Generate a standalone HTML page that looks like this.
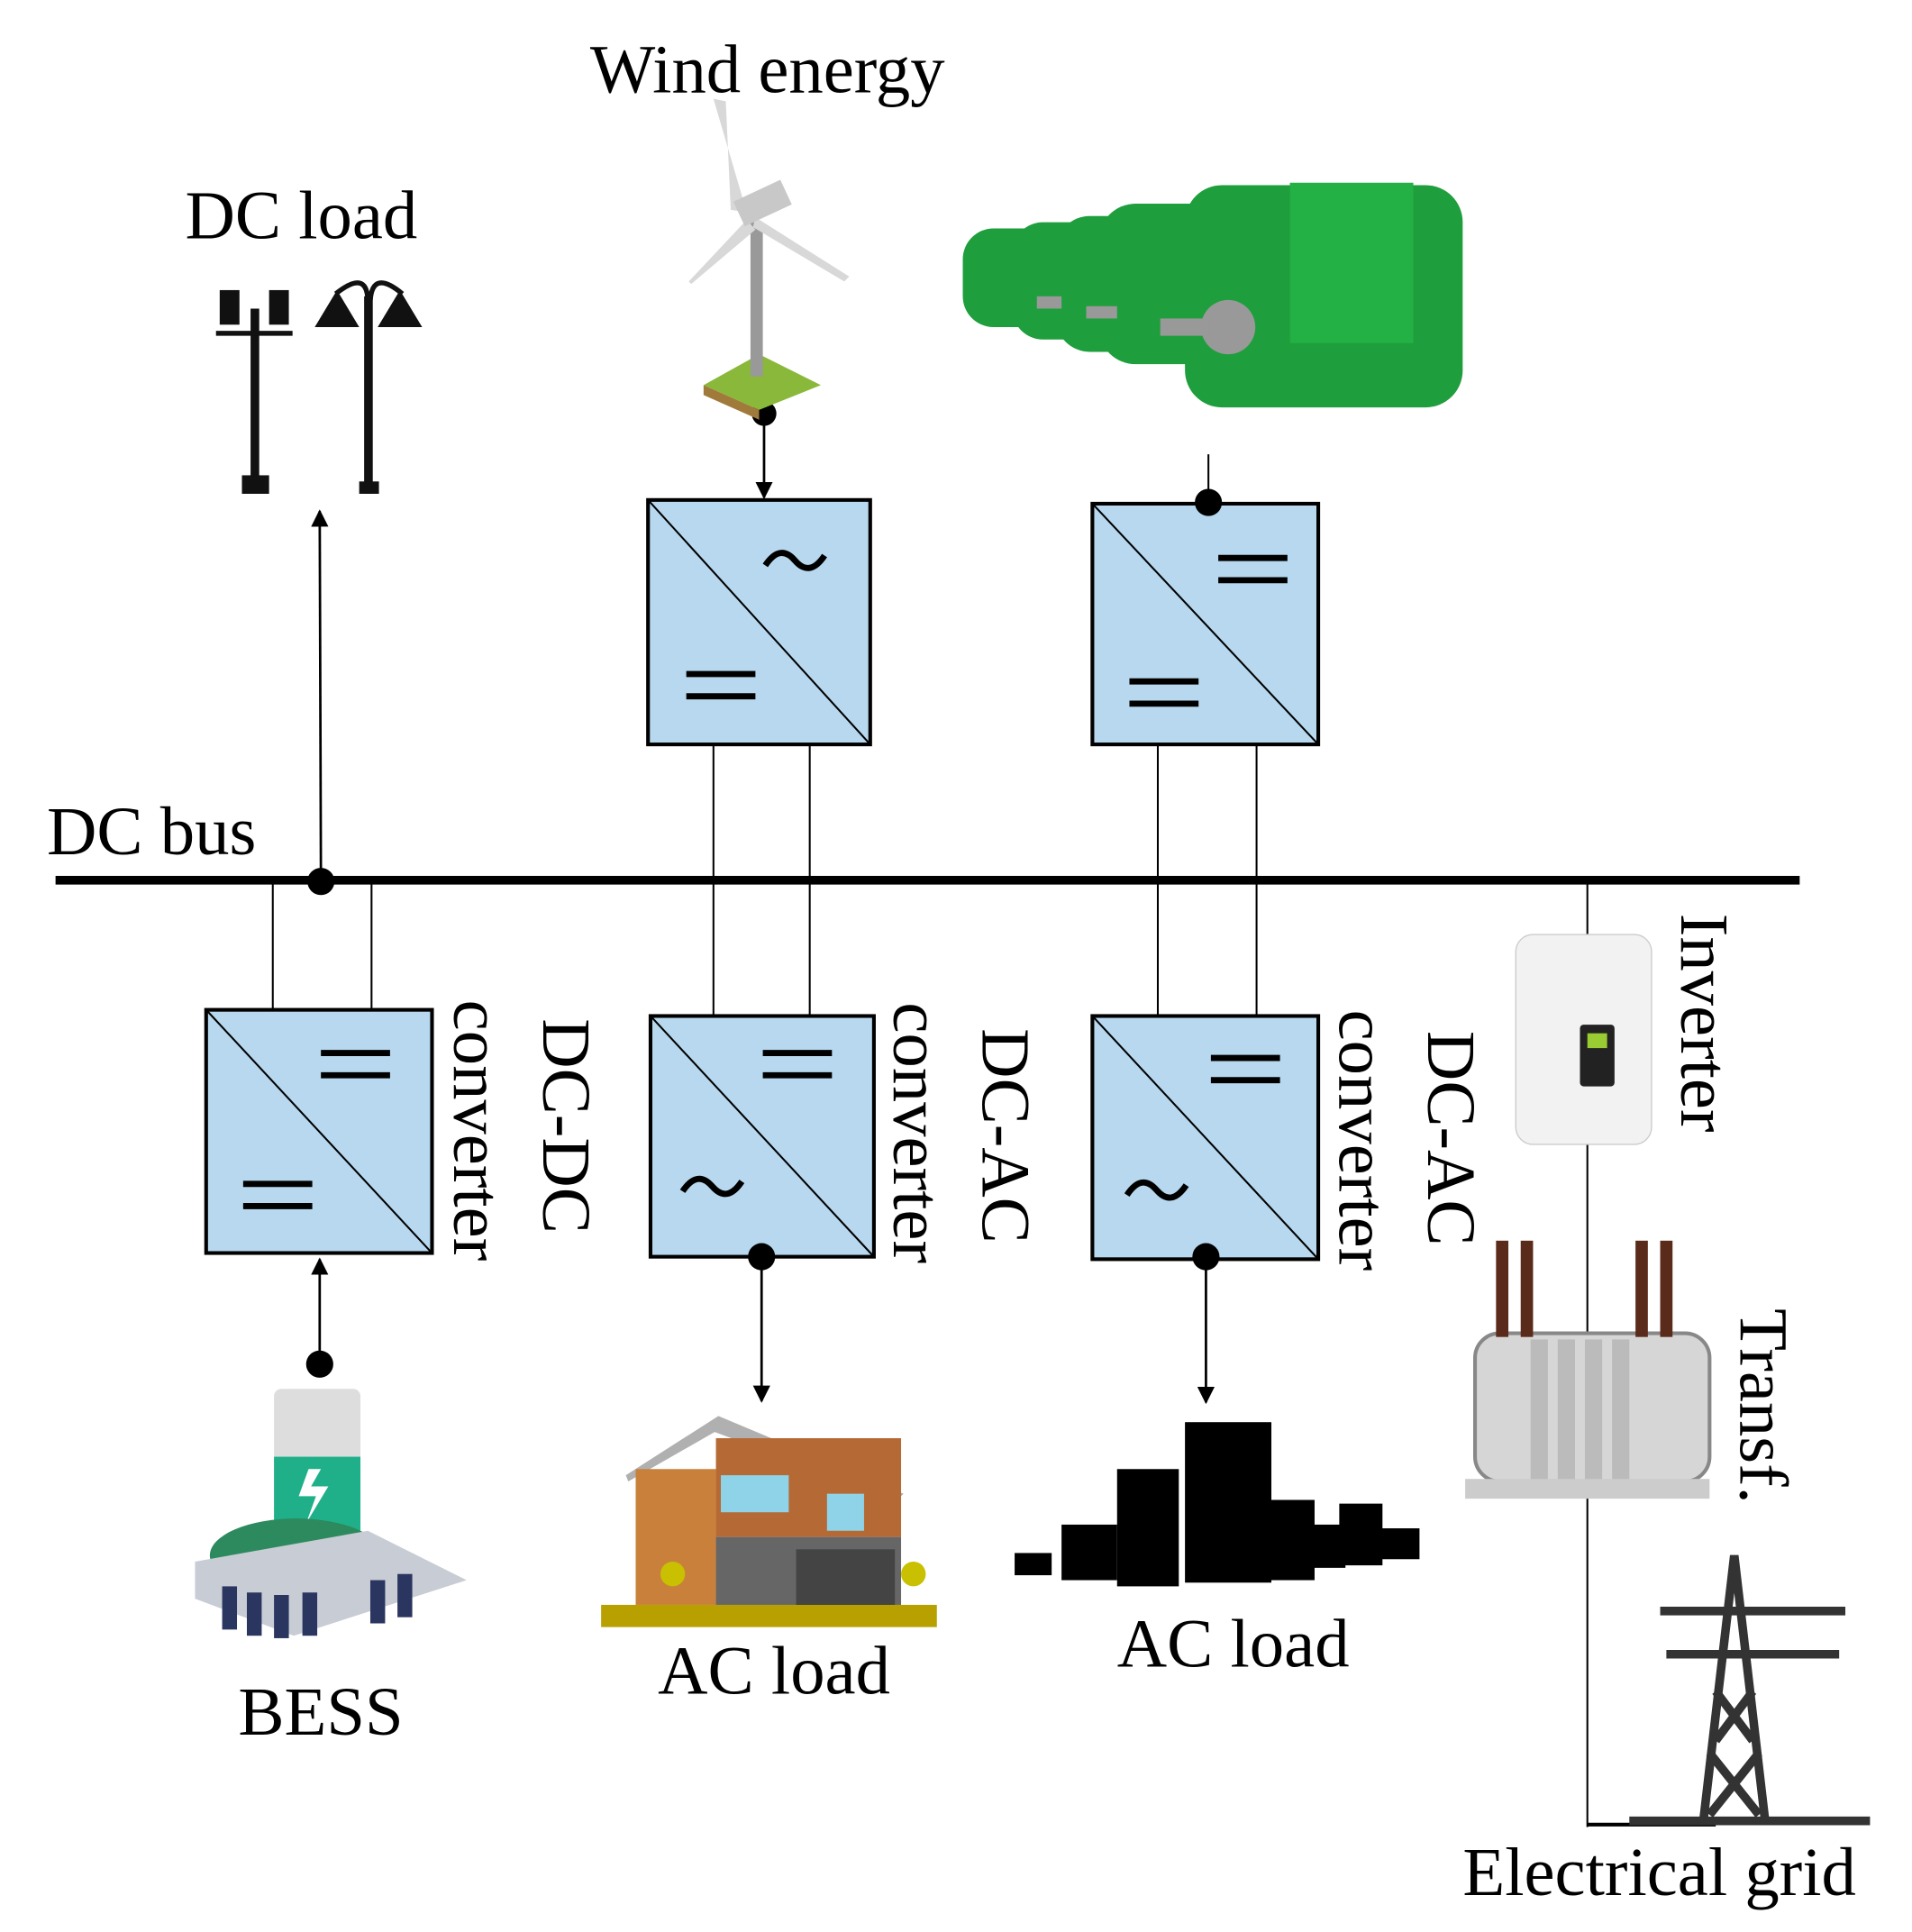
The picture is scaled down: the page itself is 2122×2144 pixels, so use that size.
<!DOCTYPE html>
<html><head><style>html,body{margin:0;padding:0;background:#fff}svg{display:block}</style></head>
<body>
<svg width="2122" height="2144" viewBox="0 0 1549 1565" preserveAspectRatio="none" xmlns="http://www.w3.org/2000/svg" font-family="Liberation Serif, serif" font-size="56">
<defs>
<marker id="ar" viewBox="0 0 10 10" refX="9" refY="5" markerWidth="7" markerHeight="7" orient="auto-start-reverse"><path d="M0,0L10,5L0,10z" fill="#000"/></marker>
</defs>
<rect width="1549" height="1565" fill="#fff"/>
<text x="478" y="75">Wind energy</text>
<text x="150" y="193">DC load</text>
<text x="38" y="692">DC bus</text>
<text x="193" y="1405">BESS</text>
<text x="533" y="1372">AC load</text>
<text x="905" y="1350">AC load</text>
<text x="1185" y="1535">Electrical grid</text>
<g>
<text transform="translate(368,810) rotate(90)">converter</text>
<text transform="translate(440,825) rotate(90)">DC-DC</text>
<text transform="translate(724,812) rotate(90)">converter</text>
<text transform="translate(796,833) rotate(90)">DC-AC</text>
<text transform="translate(1085,818) rotate(90)">converter</text>
<text transform="translate(1157,835) rotate(90)">DC-AC</text>
<text transform="translate(1362,740) rotate(90)">Inverter</text>
<text transform="translate(1410,1060) rotate(90)">Transf.</text>
</g>
<line x1="45" y1="713" x2="1458" y2="713" stroke="#000" stroke-width="7"/>
<circle cx="260" cy="714" r="11"/>
<line x1="260" y1="714" x2="259" y2="414" stroke="#000" stroke-width="2" marker-end="url(#ar)"/>
<g stroke="#000" stroke-width="1.5">
<line x1="578" y1="603" x2="578" y2="823"/><line x1="656" y1="603" x2="656" y2="823"/>
<line x1="938" y1="603" x2="938" y2="823"/><line x1="1018" y1="603" x2="1018" y2="823"/>
<line x1="221" y1="713" x2="221" y2="818"/><line x1="301" y1="713" x2="301" y2="818"/>
<line x1="1286" y1="713" x2="1286" y2="1480"/><line x1="1286" y1="1478" x2="1390" y2="1478" stroke-width="3"/>
<line x1="979" y1="368" x2="979" y2="407"/>
</g>
<g fill="#b7d8ee" stroke="#000" stroke-width="3">
<rect x="525" y="405" width="180" height="198"/>
<rect x="885" y="408" width="183" height="195"/>
<rect x="167" y="818" width="183" height="197"/>
<rect x="527" y="823" width="181" height="195"/>
<rect x="885" y="823" width="183" height="197"/>
</g>
<g stroke="#000" stroke-width="1.5">
<line x1="525" y1="405" x2="705" y2="603"/>
<line x1="885" y1="408" x2="1068" y2="603"/>
<line x1="167" y1="818" x2="350" y2="1015"/>
<line x1="527" y1="823" x2="708" y2="1018"/>
<line x1="885" y1="823" x2="1068" y2="1020"/>
</g>
<g stroke="#000" stroke-width="5">
<path d="M556 546h56M556 564h56"/>
<path d="M987 452h56M987 470h56M915 552h56M915 570h56"/>
<path d="M260 853h56M260 871h56M197 959h56M197 977h56"/>
<path d="M618 853h56M618 871h56"/>
<path d="M981 857h56M981 875h56"/>
</g>
<g fill="none" stroke="#000" stroke-width="5">
<path d="M620 458q12-18 24-4t24-4"/>
<path d="M553 965q12-18 24-4t24-4"/>
<path d="M913 968q12-18 24-4t24-4"/>
</g>
<circle cx="619" cy="335" r="10"/><line x1="619" y1="335" x2="619" y2="403" stroke="#000" stroke-width="2" marker-end="url(#ar)"/>
<circle cx="979" cy="407" r="11"/>
<circle cx="259" cy="1105" r="11"/><line x1="259" y1="1105" x2="259" y2="1020" stroke="#000" stroke-width="2" marker-end="url(#ar)"/>
<circle cx="617" cy="1018" r="11"/><line x1="617" y1="1018" x2="617" y2="1135" stroke="#000" stroke-width="2" marker-end="url(#ar)"/>
<circle cx="977" cy="1018" r="11"/><line x1="977" y1="1018" x2="977" y2="1136" stroke="#000" stroke-width="2" marker-end="url(#ar)"/>
<g fill="#111">
<rect x="203" y="250" width="7" height="140"/><rect x="196" y="385" width="22" height="15"/>
<rect x="178" y="235" width="16" height="28"/><rect x="218" y="235" width="16" height="28"/>
<rect x="175" y="268" width="62" height="4"/>
<rect x="295" y="240" width="7" height="160"/><rect x="291" y="390" width="16" height="10"/>
<path d="M255 265l18-30 18 30z"/><path d="M306 265l18-30 18 30z"/>
<path d="M272 238q25-20 26 5M300 243q2-25 26-5" fill="none" stroke="#111" stroke-width="4"/>
</g>
<g>
<path d="M570 312l45-25 50 25-50 20z" fill="#8ab83a"/><path d="M570 312l45 20v8l-45-20z" fill="#a07a3a"/>
<rect x="608" y="180" width="10" height="125" fill="#999"/>
<path d="M605 172l-27-92 10 2 4 88z" fill="#d8d8d8"/><path d="M605 178l-47 50 2 2 52-44z" fill="#d8d8d8"/><path d="M612 176l76 48-4 4-74-44z" fill="#d8d8d8"/>
<rect x="598" y="155" width="42" height="22" fill="#c8c8c8" transform="rotate(-25 615 168)"/>
</g>
<g fill="#1e9e3c">
<rect x="780" y="185" width="90" height="80" rx="25"/>
<rect x="820" y="180" width="100" height="95" rx="25"/>
<rect x="855" y="175" width="110" height="110" rx="28"/>
<rect x="890" y="165" width="130" height="130" rx="30"/>
<rect x="960" y="150" width="225" height="180" rx="30"/>
<rect x="1045" y="148" width="100" height="130" fill="#23b044"/>
</g>
<g fill="#999"><circle cx="995" cy="265" r="22"/><rect x="940" y="258" width="40" height="14"/><rect x="880" y="248" width="25" height="10"/><rect x="840" y="240" width="20" height="10"/></g>
<g>
<rect x="222" y="1125" width="70" height="130" rx="6" fill="#ddd"/>
<rect x="222" y="1180" width="70" height="75" fill="#1fb08a"/>
<path d="M250 1190l-8 22h14l-8 22 18-30h-14l8-14z" fill="#fff"/>
<ellipse cx="240" cy="1260" rx="70" ry="30" fill="#2d8a5e"/>
<path d="M158 1265l140-25 80 40-140 45-80-30z" fill="#c8ccd4"/>
<g fill="#2a3560"><rect x="180" y="1285" width="12" height="35"/><rect x="200" y="1290" width="12" height="35"/><rect x="222" y="1292" width="12" height="35"/><rect x="245" y="1290" width="12" height="35"/><rect x="300" y="1280" width="12" height="35"/><rect x="322" y="1275" width="12" height="35"/></g>
</g>
<g>
<rect x="487" y="1300" width="272" height="18" fill="#b8a000"/>
<path d="M507 1195l75-48 150 63-5 5-148-55-70 40z" fill="#b0b0b0"/>
<rect x="515" y="1190" width="65" height="110" fill="#c9803a"/>
<rect x="580" y="1165" width="150" height="80" fill="#b56a36"/>
<rect x="580" y="1245" width="150" height="55" fill="#666"/>
<rect x="584" y="1195" width="55" height="30" fill="#8ed3e8"/><rect x="670" y="1210" width="30" height="30" fill="#8ed3e8"/>
<rect x="645" y="1255" width="80" height="45" fill="#444"/>
<circle cx="545" cy="1275" r="10" fill="#c8c000"/><circle cx="740" cy="1275" r="10" fill="#c8c000"/>
</g>
<g fill="#000">
<rect x="960" y="1152" width="70" height="130"/><rect x="905" y="1190" width="50" height="95"/>
<rect x="860" y="1235" width="45" height="45"/><rect x="1020" y="1215" width="45" height="65"/>
<rect x="1060" y="1235" width="30" height="35"/><rect x="1085" y="1218" width="35" height="50"/>
<rect x="1105" y="1238" width="45" height="25"/><rect x="822" y="1258" width="30" height="18"/>
</g>
<rect x="1228" y="757" width="110" height="170" rx="14" fill="#f2f2f2" stroke="#ccc"/>
<rect x="1280" y="830" width="28" height="50" rx="3" fill="#222"/><rect x="1286" y="837" width="16" height="12" fill="#9c3"/>
<g>
<rect x="1195" y="1080" width="190" height="120" rx="20" fill="#d6d6d6" stroke="#888" stroke-width="3"/>
<g fill="#bbb"><rect x="1240" y="1085" width="14" height="115"/><rect x="1262" y="1085" width="14" height="115"/><rect x="1284" y="1085" width="14" height="115"/><rect x="1306" y="1085" width="14" height="115"/></g>
<rect x="1187" y="1198" width="198" height="16" fill="#ccc"/>
<g fill="#5a2a1a"><rect x="1212" y="1005" width="10" height="78"/><rect x="1232" y="1005" width="10" height="78"/><rect x="1325" y="1005" width="10" height="78"/><rect x="1345" y="1005" width="10" height="78"/></g>
</g>
<g stroke="#333" stroke-width="7" fill="none">
<path d="M1380 1475l25-215 25 215"/>
<path d="M1345 1305h150M1350 1340h140"/>
<path d="M1390 1370l30 40M1420 1370l-30 40M1385 1420l40 50M1425 1420l-40 50"/>
<path d="M1320 1475h195"/>
</g>
</svg>
</body></html>
